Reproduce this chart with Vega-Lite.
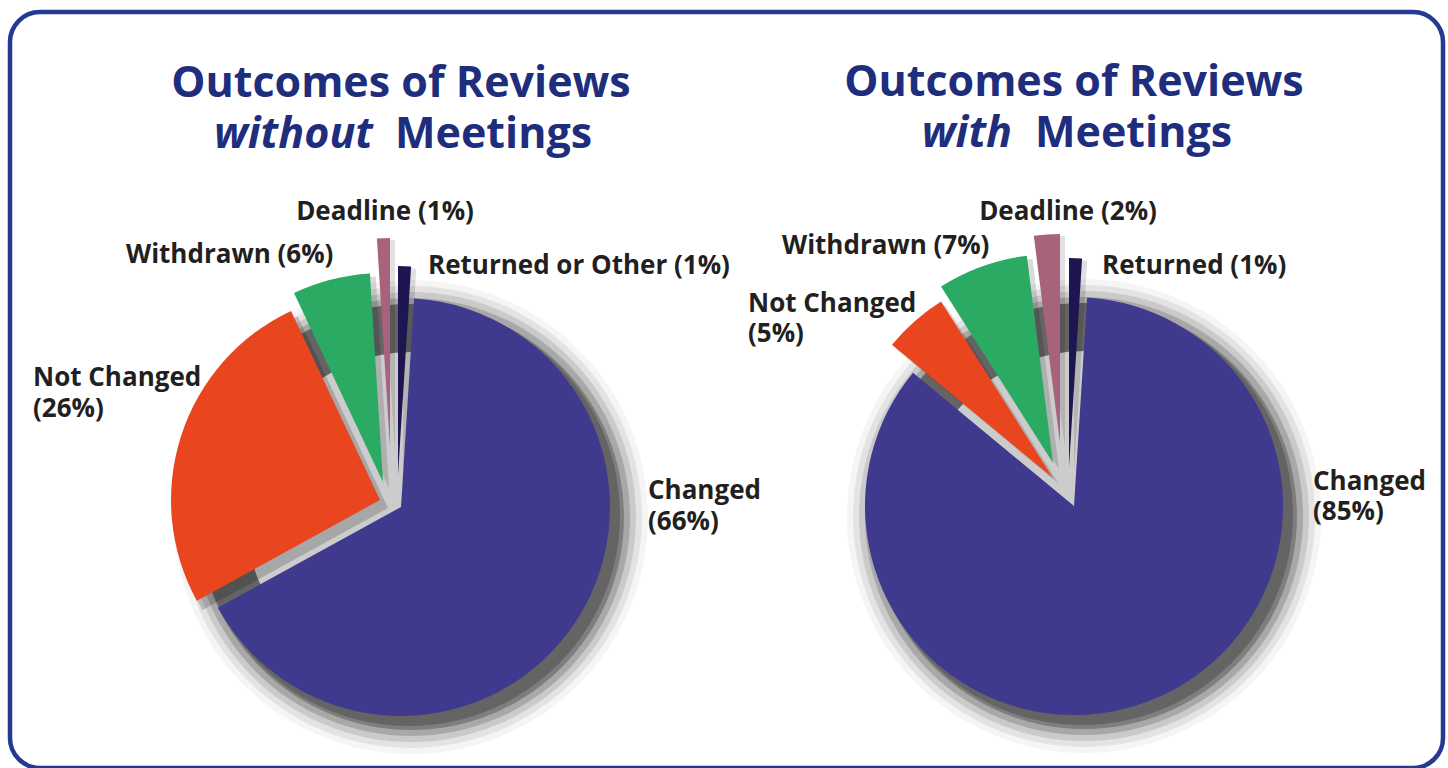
{
  "$schema": "https://vega.github.io/schema/vega-lite/v6.json",
  "width": 1433,
  "height": 756,
  "autosize": {"type": "none"},
  "padding": {"left": 10, "top": 12, "right": 5, "bottom": 0},
  "background": "white",
  "config": {
    "view": {"stroke": "#243a92", "strokeWidth": 4.5, "cornerRadius": 30},
    "font": "Open Sans"
  },
  "datasets": {
    "slices": [
      {"chart": "without", "outcome": "Returned", "pct": 1},
      {"chart": "without", "outcome": "Changed", "pct": 66},
      {"chart": "without", "outcome": "Not Changed", "pct": 26},
      {"chart": "without", "outcome": "Withdrawn", "pct": 6},
      {"chart": "without", "outcome": "Deadline", "pct": 1},
      {"chart": "with", "outcome": "Returned", "pct": 1},
      {"chart": "with", "outcome": "Changed", "pct": 85},
      {"chart": "with", "outcome": "Not Changed", "pct": 5},
      {"chart": "with", "outcome": "Withdrawn", "pct": 7},
      {"chart": "with", "outcome": "Deadline", "pct": 2}
    ],
    "titles": [
      {"chart": "without", "part": "main", "text": "Outcomes of Reviews"},
      {"chart": "without", "part": "em", "text": "without"},
      {"chart": "without", "part": "rest", "text": "Meetings"},
      {"chart": "with", "part": "main", "text": "Outcomes of Reviews"},
      {"chart": "with", "part": "em", "text": "with"},
      {"chart": "with", "part": "rest", "text": "Meetings"}
    ],
    "labels": [
      {"chart": "without", "key": "deadline", "label": "Deadline (1%)"},
      {"chart": "without", "key": "withdrawn", "label": "Withdrawn (6%)"},
      {"chart": "without", "key": "returned", "label": "Returned  or Other (1%)"},
      {"chart": "without", "key": "notchanged", "label": "Not Changed\n(26%)"},
      {"chart": "without", "key": "changed", "label": "Changed\n(66%)"},
      {"chart": "with", "key": "deadline", "label": "Deadline (2%)"},
      {"chart": "with", "key": "withdrawn", "label": "Withdrawn (7%)"},
      {"chart": "with", "key": "returned", "label": "Returned (1%)"},
      {"chart": "with", "key": "notchanged", "label": "Not Changed\n(5%)"},
      {"chart": "with", "key": "changed", "label": "Changed\n(85%)"}
    ]
  },
  "encoding": {
    "x": {"field": "chart", "type": "nominal", "scale": {"type": "point", "domain": ["without", "with"], "range": [391, 1064], "padding": 0}, "axis": null},
    "y": {"field": "chart", "type": "nominal", "scale": {"type": "point", "domain": ["without", "with"], "range": [495, 494], "padding": 0}, "axis": null}
  },
  "layer": [
    {
      "data": {"name": "slices"},
      "transform": [{"filter": "datum.outcome === 'Changed'"}],
      "mark": {"type": "arc", "radius": 211, "xOffset": 8, "yOffset": 8, "color": "black", "opacity": 0.2},
      "encoding": {"theta": {"value": 0}, "theta2": {"value": 6.2832}}
    },
    {
      "data": {"name": "slices"},
      "transform": [{"filter": "datum.outcome === 'Changed'"}],
      "mark": {"type": "arc", "radius": 237, "radius2": 165, "xOffset": 10, "yOffset": 10, "color": "black", "opacity": 0.04},
      "encoding": {"theta": {"value": 0}, "theta2": {"value": 6.2832}}
    },
    {
      "data": {"name": "slices"},
      "transform": [{"filter": "datum.outcome === 'Changed'"}],
      "mark": {"type": "arc", "radius": 231, "radius2": 165, "xOffset": 10, "yOffset": 10, "color": "black", "opacity": 0.07},
      "encoding": {"theta": {"value": 0}, "theta2": {"value": 6.2832}}
    },
    {
      "data": {"name": "slices"},
      "transform": [{"filter": "datum.outcome === 'Changed'"}],
      "mark": {"type": "arc", "radius": 225, "radius2": 165, "xOffset": 10, "yOffset": 10, "color": "black", "opacity": 0.11},
      "encoding": {"theta": {"value": 0}, "theta2": {"value": 6.2832}}
    },
    {
      "data": {"name": "slices"},
      "transform": [{"filter": "datum.outcome === 'Changed'"}],
      "mark": {"type": "arc", "radius": 219, "radius2": 165, "xOffset": 10, "yOffset": 10, "color": "black", "opacity": 0.17},
      "encoding": {"theta": {"value": 0}, "theta2": {"value": 6.2832}}
    },
    {
      "data": {"name": "slices"},
      "transform": [{"filter": "datum.outcome === 'Changed'"}],
      "mark": {"type": "arc", "radius": 213, "radius2": 165, "xOffset": 10, "yOffset": 10, "color": "black", "opacity": 0.25},
      "encoding": {"theta": {"value": 0}, "theta2": {"value": 6.2832}}
    },
    {
      "data": {"name": "slices"},
      "transform": [
        {"stack": "pct", "groupby": ["chart"], "offset": "normalize", "as": ["t0", "t1"]},
        {"filter": "datum.chart === 'without' && datum.outcome === 'Not Changed'"}
      ],
      "mark": {"type": "arc", "radius": 212, "xOffset": -13, "yOffset": 1, "color": "black", "opacity": 0.18},
      "encoding": {"theta": {"field": "t0", "type": "quantitative", "scale": {"domain": [0, 1]}}, "theta2": {"field": "t1"}}
    },
    {
      "data": {"name": "slices"},
      "transform": [
        {"stack": "pct", "groupby": ["chart"], "offset": "normalize", "as": ["t0", "t1"]},
        {"filter": "datum.chart === 'without' && datum.outcome === 'Withdrawn'"}
      ],
      "mark": {"type": "arc", "radius": 212, "xOffset": -12, "yOffset": -19, "color": "black", "opacity": 0.14},
      "encoding": {"theta": {"field": "t0", "type": "quantitative", "scale": {"domain": [0, 1]}}, "theta2": {"field": "t1"}}
    },
    {
      "data": {"name": "slices"},
      "transform": [
        {"stack": "pct", "groupby": ["chart"], "offset": "normalize", "as": ["t0", "t1"]},
        {"filter": "datum.chart === 'without' && datum.outcome === 'Deadline'"}
      ],
      "mark": {"type": "arc", "radius": 212, "xOffset": -6, "yOffset": -55, "color": "black", "opacity": 0.12},
      "encoding": {"theta": {"field": "t0", "type": "quantitative", "scale": {"domain": [0, 1]}}, "theta2": {"field": "t1"}}
    },
    {
      "data": {"name": "slices"},
      "transform": [
        {"stack": "pct", "groupby": ["chart"], "offset": "normalize", "as": ["t0", "t1"]},
        {"filter": "datum.chart === 'without' && datum.outcome === 'Returned'"}
      ],
      "mark": {"type": "arc", "radius": 212, "xOffset": 2, "yOffset": -27, "color": "black", "opacity": 0.12},
      "encoding": {"theta": {"field": "t0", "type": "quantitative", "scale": {"domain": [0, 1]}}, "theta2": {"field": "t1"}}
    },
    {
      "data": {"name": "slices"},
      "transform": [
        {"stack": "pct", "groupby": ["chart"], "offset": "normalize", "as": ["t0", "t1"]},
        {"filter": "datum.chart === 'with' && datum.outcome === 'Not Changed'"}
      ],
      "mark": {"type": "arc", "radius": 212, "xOffset": -15, "yOffset": -22, "color": "black", "opacity": 0.14},
      "encoding": {"theta": {"field": "t0", "type": "quantitative", "scale": {"domain": [0, 1]}}, "theta2": {"field": "t1"}}
    },
    {
      "data": {"name": "slices"},
      "transform": [
        {"stack": "pct", "groupby": ["chart"], "offset": "normalize", "as": ["t0", "t1"]},
        {"filter": "datum.chart === 'with' && datum.outcome === 'Withdrawn'"}
      ],
      "mark": {"type": "arc", "radius": 212, "xOffset": -15, "yOffset": -37, "color": "black", "opacity": 0.14},
      "encoding": {"theta": {"field": "t0", "type": "quantitative", "scale": {"domain": [0, 1]}}, "theta2": {"field": "t1"}}
    },
    {
      "data": {"name": "slices"},
      "transform": [
        {"stack": "pct", "groupby": ["chart"], "offset": "normalize", "as": ["t0", "t1"]},
        {"filter": "datum.chart === 'with' && datum.outcome === 'Deadline'"}
      ],
      "mark": {"type": "arc", "radius": 212, "xOffset": -9, "yOffset": -58, "color": "black", "opacity": 0.12},
      "encoding": {"theta": {"field": "t0", "type": "quantitative", "scale": {"domain": [0, 1]}}, "theta2": {"field": "t1"}}
    },
    {
      "data": {"name": "slices"},
      "transform": [
        {"stack": "pct", "groupby": ["chart"], "offset": "normalize", "as": ["t0", "t1"]},
        {"filter": "datum.chart === 'with' && datum.outcome === 'Returned'"}
      ],
      "mark": {"type": "arc", "radius": 212, "xOffset": 0, "yOffset": -34, "color": "black", "opacity": 0.12},
      "encoding": {"theta": {"field": "t0", "type": "quantitative", "scale": {"domain": [0, 1]}}, "theta2": {"field": "t1"}}
    },
    {
      "data": {"name": "slices"},
      "transform": [
        {"stack": "pct", "groupby": ["chart"], "offset": "normalize", "as": ["t0", "t1"]},
        {"filter": "datum.outcome === 'Changed'"}
      ],
      "mark": {"type": "arc", "radius": 209},
      "encoding": {
        "theta": {"field": "t0", "type": "quantitative", "scale": {"domain": [0, 1]}},
        "theta2": {"field": "t1"},
        "color": {"field": "outcome", "type": "nominal", "scale": {"domain": ["Changed", "Not Changed", "Withdrawn", "Deadline", "Returned"], "range": ["#3f3a8e", "#e9461f", "#2aaa62", "#a8637c", "#1d1650"]}, "legend": null}
      }
    },
    {
      "data": {"name": "slices"},
      "transform": [
        {"stack": "pct", "groupby": ["chart"], "offset": "normalize", "as": ["t0", "t1"]},
        {"filter": "datum.chart === 'without' && datum.outcome === 'Not Changed'"}
      ],
      "mark": {"type": "arc", "radius": 209, "xOffset": -21, "yOffset": -7},
      "encoding": {
        "theta": {"field": "t0", "type": "quantitative", "scale": {"domain": [0, 1]}},
        "theta2": {"field": "t1"},
        "color": {"field": "outcome", "type": "nominal", "legend": null}
      }
    },
    {
      "data": {"name": "slices"},
      "transform": [
        {"stack": "pct", "groupby": ["chart"], "offset": "normalize", "as": ["t0", "t1"]},
        {"filter": "datum.chart === 'without' && datum.outcome === 'Withdrawn'"}
      ],
      "mark": {"type": "arc", "radius": 209, "xOffset": -18, "yOffset": -25},
      "encoding": {
        "theta": {"field": "t0", "type": "quantitative", "scale": {"domain": [0, 1]}},
        "theta2": {"field": "t1"},
        "color": {"field": "outcome", "type": "nominal", "legend": null}
      }
    },
    {
      "data": {"name": "slices"},
      "transform": [
        {"stack": "pct", "groupby": ["chart"], "offset": "normalize", "as": ["t0", "t1"]},
        {"filter": "datum.chart === 'without' && datum.outcome === 'Deadline'"}
      ],
      "mark": {"type": "arc", "radius": 209, "xOffset": -11, "yOffset": -60},
      "encoding": {
        "theta": {"field": "t0", "type": "quantitative", "scale": {"domain": [0, 1]}},
        "theta2": {"field": "t1"},
        "color": {"field": "outcome", "type": "nominal", "legend": null}
      }
    },
    {
      "data": {"name": "slices"},
      "transform": [
        {"stack": "pct", "groupby": ["chart"], "offset": "normalize", "as": ["t0", "t1"]},
        {"filter": "datum.chart === 'without' && datum.outcome === 'Returned'"}
      ],
      "mark": {"type": "arc", "radius": 209, "xOffset": -3, "yOffset": -32},
      "encoding": {
        "theta": {"field": "t0", "type": "quantitative", "scale": {"domain": [0, 1]}},
        "theta2": {"field": "t1"},
        "color": {"field": "outcome", "type": "nominal", "legend": null}
      }
    },
    {
      "data": {"name": "slices"},
      "transform": [
        {"stack": "pct", "groupby": ["chart"], "offset": "normalize", "as": ["t0", "t1"]},
        {"filter": "datum.chart === 'with' && datum.outcome === 'Not Changed'"}
      ],
      "mark": {"type": "arc", "radius": 209, "xOffset": -21, "yOffset": -28},
      "encoding": {
        "theta": {"field": "t0", "type": "quantitative", "scale": {"domain": [0, 1]}},
        "theta2": {"field": "t1"},
        "color": {"field": "outcome", "type": "nominal", "legend": null}
      }
    },
    {
      "data": {"name": "slices"},
      "transform": [
        {"stack": "pct", "groupby": ["chart"], "offset": "normalize", "as": ["t0", "t1"]},
        {"filter": "datum.chart === 'with' && datum.outcome === 'Withdrawn'"}
      ],
      "mark": {"type": "arc", "radius": 209, "xOffset": -21, "yOffset": -43},
      "encoding": {
        "theta": {"field": "t0", "type": "quantitative", "scale": {"domain": [0, 1]}},
        "theta2": {"field": "t1"},
        "color": {"field": "outcome", "type": "nominal", "legend": null}
      }
    },
    {
      "data": {"name": "slices"},
      "transform": [
        {"stack": "pct", "groupby": ["chart"], "offset": "normalize", "as": ["t0", "t1"]},
        {"filter": "datum.chart === 'with' && datum.outcome === 'Deadline'"}
      ],
      "mark": {"type": "arc", "radius": 209, "xOffset": -14, "yOffset": -63},
      "encoding": {
        "theta": {"field": "t0", "type": "quantitative", "scale": {"domain": [0, 1]}},
        "theta2": {"field": "t1"},
        "color": {"field": "outcome", "type": "nominal", "legend": null}
      }
    },
    {
      "data": {"name": "slices"},
      "transform": [
        {"stack": "pct", "groupby": ["chart"], "offset": "normalize", "as": ["t0", "t1"]},
        {"filter": "datum.chart === 'with' && datum.outcome === 'Returned'"}
      ],
      "mark": {"type": "arc", "radius": 209, "xOffset": -5, "yOffset": -39},
      "encoding": {
        "theta": {"field": "t0", "type": "quantitative", "scale": {"domain": [0, 1]}},
        "theta2": {"field": "t1"},
        "color": {"field": "outcome", "type": "nominal", "legend": null}
      }
    },
    {
      "data": {"name": "titles"},
      "transform": [{"filter": "datum.part === 'main'"}],
      "mark": {"type": "text", "align": "center", "baseline": "alphabetic", "dy": -410, "fontSize": 43, "fontWeight": "bold", "color": "#1f2d7d"},
      "encoding": {"text": {"field": "text"}}
    },
    {
      "data": {"name": "titles"},
      "transform": [{"filter": "datum.chart === 'without' && datum.part === 'em'"}],
      "mark": {"type": "text", "align": "right", "baseline": "alphabetic", "dx": -28, "dy": -359, "fontSize": 43, "fontWeight": "bold", "fontStyle": "italic", "color": "#1f2d7d"},
      "encoding": {"text": {"field": "text"}}
    },
    {
      "data": {"name": "titles"},
      "transform": [{"filter": "datum.chart === 'without' && datum.part === 'rest'"}],
      "mark": {"type": "text", "align": "left", "baseline": "alphabetic", "dx": -6, "dy": -359, "fontSize": 43, "fontWeight": "bold", "color": "#1f2d7d"},
      "encoding": {"text": {"field": "text"}}
    },
    {
      "data": {"name": "titles"},
      "transform": [{"filter": "datum.chart === 'with' && datum.part === 'em'"}],
      "mark": {"type": "text", "align": "right", "baseline": "alphabetic", "dx": -62, "dy": -359, "fontSize": 43, "fontWeight": "bold", "fontStyle": "italic", "color": "#1f2d7d"},
      "encoding": {"text": {"field": "text"}}
    },
    {
      "data": {"name": "titles"},
      "transform": [{"filter": "datum.chart === 'with' && datum.part === 'rest'"}],
      "mark": {"type": "text", "align": "left", "baseline": "alphabetic", "dx": -39, "dy": -359, "fontSize": 43, "fontWeight": "bold", "color": "#1f2d7d"},
      "encoding": {"text": {"field": "text"}}
    },
    {
      "data": {"name": "labels"},
      "transform": [{"filter": "datum.chart === 'without' && datum.key === 'deadline'"}],
      "mark": {"type": "text", "align": "center", "baseline": "alphabetic", "dx": -16, "dy": -287, "fontSize": 26, "fontWeight": "bold", "color": "#231f20"},
      "encoding": {"text": {"field": "label"}}
    },
    {
      "data": {"name": "labels"},
      "transform": [{"filter": "datum.chart === 'without' && datum.key === 'withdrawn'"}],
      "mark": {"type": "text", "align": "left", "baseline": "alphabetic", "dx": -275, "dy": -244, "fontSize": 26, "fontWeight": "bold", "color": "#231f20"},
      "encoding": {"text": {"field": "label"}}
    },
    {
      "data": {"name": "labels"},
      "transform": [{"filter": "datum.chart === 'without' && datum.key === 'returned'"}],
      "mark": {"type": "text", "align": "left", "baseline": "alphabetic", "dx": 27, "dy": -233, "fontSize": 26, "fontWeight": "bold", "color": "#231f20"},
      "encoding": {"text": {"field": "label"}}
    },
    {
      "data": {"name": "labels"},
      "transform": [{"filter": "datum.chart === 'without' && datum.key === 'notchanged'"}],
      "mark": {"type": "text", "align": "left", "baseline": "alphabetic", "dx": -368, "dy": -121, "lineBreak": "\n", "lineHeight": 31, "fontSize": 26, "fontWeight": "bold", "color": "#231f20"},
      "encoding": {"text": {"field": "label"}}
    },
    {
      "data": {"name": "labels"},
      "transform": [{"filter": "datum.chart === 'without' && datum.key === 'changed'"}],
      "mark": {"type": "text", "align": "left", "baseline": "alphabetic", "dx": 247, "dy": -8, "lineBreak": "\n", "lineHeight": 31, "fontSize": 26, "fontWeight": "bold", "color": "#231f20"},
      "encoding": {"text": {"field": "label"}}
    },
    {
      "data": {"name": "labels"},
      "transform": [{"filter": "datum.chart === 'with' && datum.key === 'deadline'"}],
      "mark": {"type": "text", "align": "center", "baseline": "alphabetic", "dx": -6, "dy": -286, "fontSize": 26, "fontWeight": "bold", "color": "#231f20"},
      "encoding": {"text": {"field": "label"}}
    },
    {
      "data": {"name": "labels"},
      "transform": [{"filter": "datum.chart === 'with' && datum.key === 'withdrawn'"}],
      "mark": {"type": "text", "align": "left", "baseline": "alphabetic", "dx": -292, "dy": -252, "fontSize": 26, "fontWeight": "bold", "color": "#231f20"},
      "encoding": {"text": {"field": "label"}}
    },
    {
      "data": {"name": "labels"},
      "transform": [{"filter": "datum.chart === 'with' && datum.key === 'returned'"}],
      "mark": {"type": "text", "align": "left", "baseline": "alphabetic", "dx": 28, "dy": -232, "fontSize": 26, "fontWeight": "bold", "color": "#231f20"},
      "encoding": {"text": {"field": "label"}}
    },
    {
      "data": {"name": "labels"},
      "transform": [{"filter": "datum.chart === 'with' && datum.key === 'notchanged'"}],
      "mark": {"type": "text", "align": "left", "baseline": "alphabetic", "dx": -326, "dy": -194, "lineBreak": "\n", "lineHeight": 30, "fontSize": 26, "fontWeight": "bold", "color": "#231f20"},
      "encoding": {"text": {"field": "label"}}
    },
    {
      "data": {"name": "labels"},
      "transform": [{"filter": "datum.chart === 'with' && datum.key === 'changed'"}],
      "mark": {"type": "text", "align": "left", "baseline": "alphabetic", "dx": 239, "dy": -16, "lineBreak": "\n", "lineHeight": 30, "fontSize": 26, "fontWeight": "bold", "color": "#231f20"},
      "encoding": {"text": {"field": "label"}}
    }
  ]
}
